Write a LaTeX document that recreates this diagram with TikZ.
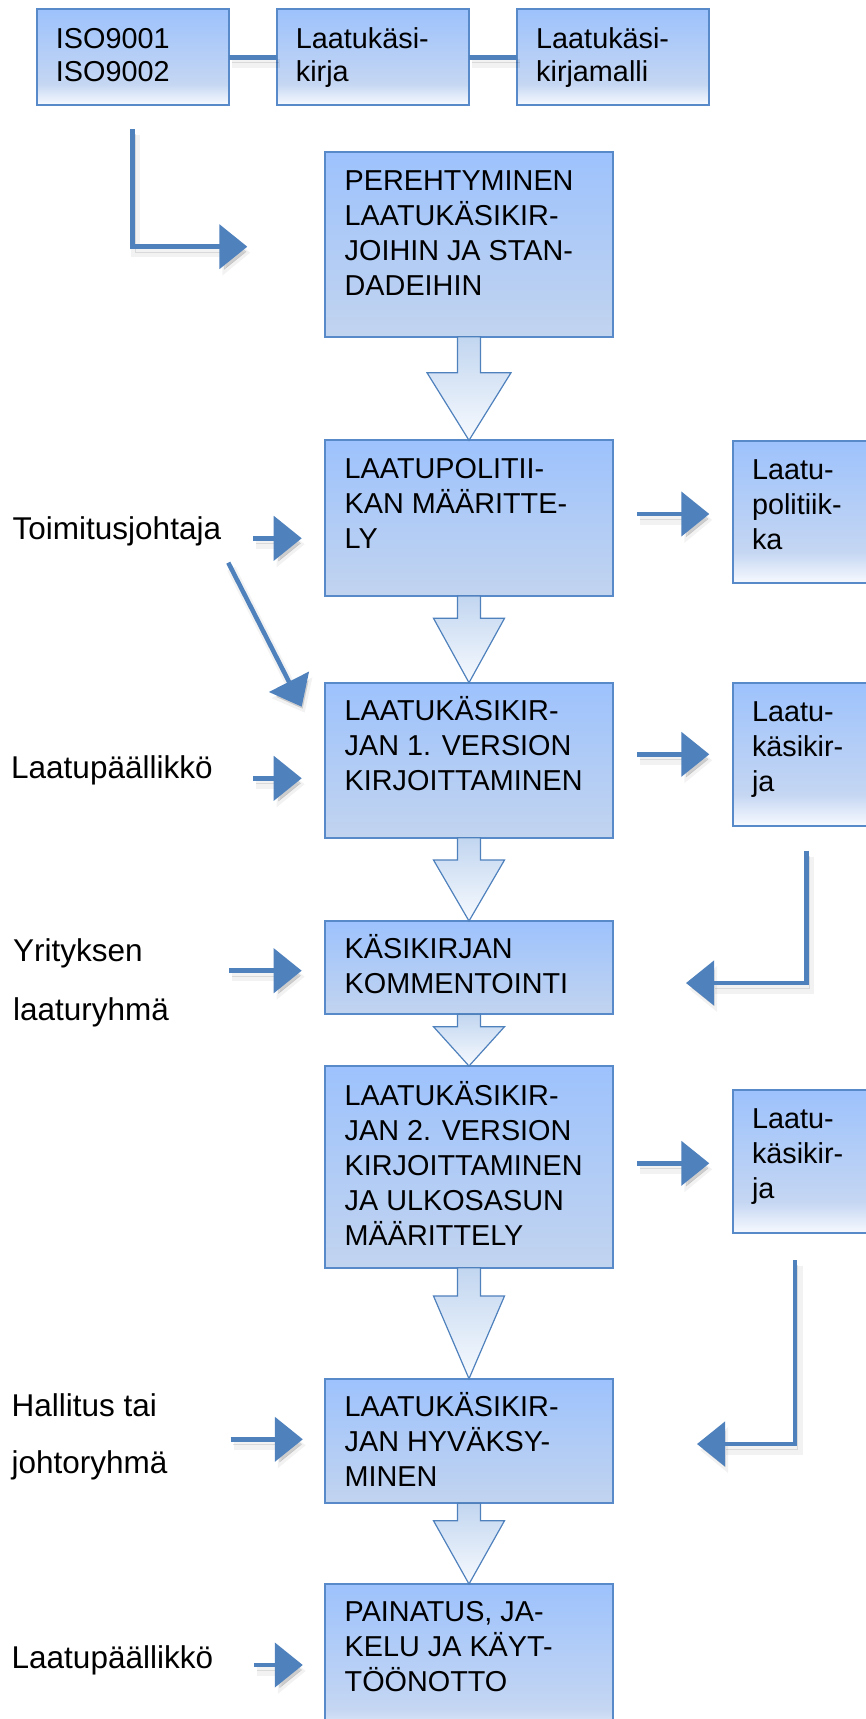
\documentclass[tikz,border=0pt]{standalone}
\usepackage{fontspec}
\setmainfont{Liberation Sans}
\usetikzlibrary{arrows.meta,calc}
\definecolor{lineblue}{RGB}{79,129,189}
\definecolor{edgeblue}{RGB}{88,137,200}
\definecolor{boxtop}{RGB}{157,194,253}
\definecolor{boxbot}{RGB}{194,212,239}
\definecolor{arrtop}{RGB}{194,214,240}
\definecolor{arrbot}{RGB}{247,250,254}
\pgfdeclareverticalshading{fadewhite}{100bp}{rgb(0bp)=(0.97,0.98,1); rgb(25bp)=(0.97,0.98,1); rgb(36bp)=(0.77,0.84,0.95); rgb(75bp)=(0.615,0.76,0.99); rgb(100bp)=(0.615,0.76,0.99)}
\newcommand{\lines}[2]{\parbox[t]{#1pt}{#2}}
\newcommand{\blockarrow}[4]{%
  \draw[blockarr] ($(#1.south)+(-11.5,0)$) -- ($(#1.south)+(11.5,0)$) -- ($(#2.north)+(11.5,-#3)$) -- ($(#2.north)+(#4,-#3)$) -- (#2.north) -- ($(#2.north)+(-#4,-#3)$) -- ($(#2.north)+(-11.5,-#3)$) -- cycle;}
\tikzset{
  boxbase/.style={draw=edgeblue, line width=1.8pt, inner sep=0pt, outer sep=0pt, anchor=north west},
  bluebox/.style={boxbase, top color=boxtop, bottom color=boxbot},
  whitebox/.style={boxbase, shade, shading=fadewhite},
  sz/.style 2 args={minimum width=#1pt, minimum height=#2pt},
  boxtxt/.style={anchor=base west, inner sep=0pt, font=\fontsize{28.8}{35}\selectfont},
  toptxt/.style={anchor=base west, inner sep=0pt, font=\fontsize{28.8}{33.3}\selectfont},
  lbl/.style={anchor=base west, inner sep=0pt, font=\fontsize{31.5}{38}\selectfont},
  shadowed/.style={
    preaction={draw=black, draw opacity=0.05, fill opacity=0.05, line width=9pt, transform canvas={shift={(3pt,-6pt)}}},
    preaction={draw=black, draw opacity=0.10, fill opacity=0.10, transform canvas={shift={(2.5pt,-5pt)}}}},
  conn/.style={shadowed, draw=lineblue, line width=4.5pt, line join=miter, -{Triangle[length=28pt,width=44pt]}},
  link/.style={shadowed, draw=lineblue, line width=5pt},
  blockarr/.style={draw=lineblue, line width=1.2pt, line join=miter, top color=arrtop, bottom color=arrbot}
}
\begin{document}
\begin{tikzpicture}[x=1pt,y=-1pt]
\useasboundingbox (0,0) rectangle (866,1719);
\clip (0,0) rectangle (866,1719);
\fill[white] (0,0) rectangle (866,1719);

% top row
\node[whitebox, sz={192.3}{95.4}] (t1) at (36.7,9.3) {};
\node[whitebox, sz={192.3}{95.4}] (t2) at (276.7,9.3) {};
\node[whitebox, sz={192.3}{95.4}] (t3) at (517,9.3) {};
\node[toptxt] (t1x) at ($(t1.north west)+(19,39)$) {\lines{170}{ISO9001\\ISO9002}};
\node[toptxt] (t2x) at ($(t2.north west)+(19,39)$) {\lines{170}{Laatukäsi-\\kirja}};
\node[toptxt] (t3x) at ($(t3.north west)+(19,39)$) {\lines{170}{Laatukäsi-\\kirjamalli}};
\draw[link] (t1.east) -- (t2.west);
\draw[link] (t2.east) -- (t3.west);

% main column
\node[bluebox, sz={288}{185}] (b1) at (325,151.7) {};
\node[bluebox, sz={288}{155.7}] (b2) at (325,440.3) {};
\node[bluebox, sz={288}{155}] (b3) at (325,682.7) {};
\node[bluebox, sz={288}{93.3}] (b4) at (325,921) {};
\node[bluebox, sz={288}{201.7}] (b5) at (325,1066) {};
\node[bluebox, sz={288}{124.6}] (b6) at (325,1378.7) {};
\node[whitebox, sz={288}{160}] (b7) at (325,1584) {};

\node[boxtxt] (b1x) at ($(b1.north west)+(19.5,39)$) {\lines{265}{PEREHTYMINEN\\LAATUKÄSIKIR-\\JOIHIN JA STAN-\\DADEIHIN}};
\node[boxtxt] (b2x) at ($(b2.north west)+(19.5,38)$) {\lines{265}{LAATUPOLITII-\\KAN MÄÄRITTE-\\LY}};
\node[boxtxt] (b3x) at ($(b3.north west)+(19.5,37.5)$) {\lines{265}{LAATUKÄSIKIR-\\JAN 1. VERSION\\KIRJOITTAMINEN}};
\node[boxtxt] (b4x) at ($(b4.north west)+(19.5,37.5)$) {\lines{265}{KÄSIKIRJAN\\KOMMENTOINTI}};
\node[boxtxt] (b5x) at ($(b5.north west)+(19.5,39)$) {\lines{265}{LAATUKÄSIKIR-\\JAN 2. VERSION\\KIRJOITTAMINEN\\JA ULKOSASUN\\MÄÄRITTELY}};
\node[boxtxt] (b6x) at ($(b6.north west)+(19.5,38)$) {\lines{265}{LAATUKÄSIKIR-\\JAN HYVÄKSY-\\MINEN}};
\node[boxtxt] (b7x) at ($(b7.north west)+(19.5,37.7)$) {\lines{265}{PAINATUS, JA-\\KELU JA KÄYT-\\TÖÖNOTTO}};

\blockarrow{b1}{b2}{67.6}{42}
\blockarrow{b2}{b3}{64.4}{35.5}
\blockarrow{b3}{b4}{61}{35.5}
\blockarrow{b4}{b5}{39.3}{35.5}
\blockarrow{b5}{b6}{82.7}{35.5}
\blockarrow{b6}{b7}{63.3}{35.5}

% right column
\node[whitebox, sz={200}{142.6}] (r1) at (733.3,440.7) {};
\node[whitebox, sz={200}{143}] (r2) at (733.3,682.7) {};
\node[whitebox, sz={200}{143.3}] (r3) at (733.3,1090) {};
\node[boxtxt] (r1x) at ($(r1.north west)+(18.5,38.6)$) {\lines{120}{Laatu-\\politiik-\\ka}};
\node[boxtxt] (r2x) at ($(r2.north west)+(18.5,39)$) {\lines{120}{Laatu-\\käsikir-\\ja}};
\node[boxtxt] (r3x) at ($(r3.north west)+(18.5,38.3)$) {\lines{120}{Laatu-\\käsikir-\\ja}};

% left labels
\node[lbl] (l1) at (12.5,539.3) {Toimitusjohtaja};
\node[lbl] (l2) at (11,778.3) {Laatupäällikkö};
\node[lbl, font=\fontsize{31.5}{58.3}\selectfont] (l3) at (13,961.7) {\lines{250}{Yrityksen\\laaturyhmä}};
\node[lbl, font=\fontsize{31.5}{56.6}\selectfont] (l4) at (11.5,1416.7) {\lines{250}{Hallitus tai\\johtoryhmä}};
\node[lbl] (l5) at (11.5,1668.3) {Laatupäällikkö};

% connector end points
\coordinate (e1s) at (132.7,129.3);  \coordinate (e1e) at (247.3,246.7);
\coordinate (e2s) at (806.7,850.7);  \coordinate (e2e) at (686,983);
\coordinate (e3s) at (795,1260);     \coordinate (e3e) at (697,1444);
\coordinate (a1s) at (253.3,538.3);  \coordinate (a1e) at (301.7,538.3);
\coordinate (ads) at (228.3,562.7);  \coordinate (ade) at (301.7,706.7);
\coordinate (a2s) at (253.3,778.3);  \coordinate (a2e) at (301.7,778.3);
\coordinate (a3s) at (229,970.7);    \coordinate (a3e) at (301.7,970.7);
\coordinate (a4s) at (230.6,1439.3); \coordinate (a4e) at (302.8,1439.3);
\coordinate (a5s) at (254.4,1665);   \coordinate (a5e) at (302.8,1665);
\coordinate (r1s) at (637.3,514);    \coordinate (r1e) at (709.3,514);
\coordinate (r2s) at (637.3,754.3);  \coordinate (r2e) at (709.3,754.3);
\coordinate (r3s) at (637.3,1163.3); \coordinate (r3e) at (709.3,1163.3);

\draw[conn] (e1s) |- (e1e);
\draw[conn] (e2s) |- (e2e);
\draw[conn] (e3s) |- (e3e);
\draw[conn] (a1s) -- (a1e);
\draw[conn] (ads) -- (ade);
\draw[conn] (a2s) -- (a2e);
\draw[conn] (a3s) -- (a3e);
\draw[conn] (a4s) -- (a4e);
\draw[conn] (a5s) -- (a5e);
\draw[conn] (r1s) -- (r1e);
\draw[conn] (r2s) -- (r2e);
\draw[conn] (r3s) -- (r3e);
\end{tikzpicture}
\end{document}
